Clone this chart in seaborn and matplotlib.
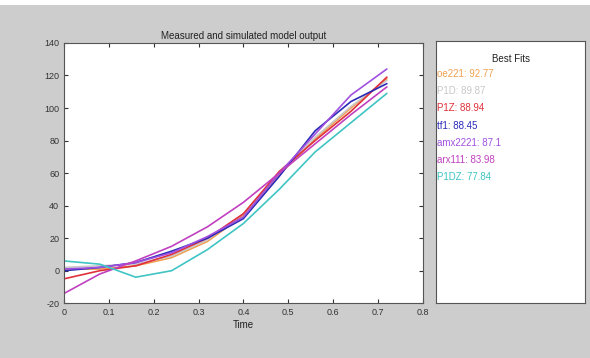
import numpy as np
import pandas as pd
import matplotlib
matplotlib.use("Agg")
import matplotlib.pyplot as plt
import seaborn as sns

time = [0, 0.08, 0.16, 0.24, 0.32, 0.40, 0.48, 0.56, 0.64, 0.72]

models = ["oe221", "P1D", "P1Z", "tf1", "amx2221", "arx111", "P1DZ"]
fits = ["92.77", "89.87", "88.94", "88.45", "87.1", "83.98", "77.84"]
colors = ["#f0a050", "#c8c8c8", "#e0303a", "#2a2ab8", "#a050e0", "#c040c0", "#40c4c4"]

oe221 = [1, 1, 3, 8, 18, 34, 59, 81, 100, 118]
p1d = [2, 3, 4, 9, 19, 35, 60, 82, 101, 117]
p1z = [-5, 0, 3, 10, 20, 35, 61, 80, 98, 119]
tf1 = [0, 2, 5, 12, 20, 32, 58, 86, 104, 115]
amx2221 = [1, 2, 5, 11, 21, 33, 60, 84, 108, 124]
arx111 = [-14, -2, 6, 15, 27, 42, 60, 78, 96, 113]
p1dz = [6, 4, -4, 0, 13, 29, 50, 73, 91, 109]
series = [oe221, p1d, p1z, tf1, amx2221, arx111, p1dz]

rows = []
for name, vals in zip(models, series):
    for t, v in zip(time, vals):
        rows.append({"Time": t, "y": v, "model": name})
df = pd.DataFrame(rows)

sns.set_style("ticks")
plt.rcParams['font.family'] = ['Liberation Sans', 'DejaVu Sans']
plt.rcParams['axes.unicode_minus'] = False

fig = plt.figure(figsize=(5.9, 3.58), dpi=100)
fig.patch.set_facecolor("#cdcdcd")
# white strip across the top
fig.patches.append(plt.Rectangle((0, 0.985), 1, 0.015, transform=fig.transFigure,
                                 facecolor="white", edgecolor="none"))

ax = fig.add_axes([0.1085, 0.153, 0.608, 0.727])
sns.lineplot(data=df, x="Time", y="y", hue="model", palette=dict(zip(models, colors)),
             linewidth=1.2, ax=ax, legend=False)
ax.set_xlim(0, 0.8)
ax.set_ylim(-20, 140)
ax.set_xticks(np.arange(0, 0.81, 0.1))
ax.set_xticklabels(["0", "0.1", "0.2", "0.3", "0.4", "0.5", "0.6", "0.7", "0.8"])
ax.set_yticks(range(-20, 141, 20))
ax.tick_params(direction="in", top=True, right=True, labelsize=6.5, length=3,
               color="#333333", labelcolor="#333333")
ax.set_xlabel("Time", fontsize=7, color="#222222", labelpad=2)
ax.set_ylabel("")
ax.set_title("Measured and simulated model output", fontsize=7, color="#222222", pad=3)
for s in ax.spines.values():
    s.set_color("#555555")
    s.set_linewidth(0.8)

lax = fig.add_axes([0.739, 0.155, 0.253, 0.73])
lax.set_xticks([])
lax.set_yticks([])
for s in lax.spines.values():
    s.set_color("#555555")
    s.set_linewidth(0.8)
lax.text(0.5, 0.93, "Best Fits", ha="center", va="center", fontsize=7,
         color="#222222", transform=lax.transAxes)
for i, (name, fit, c) in enumerate(zip(models, fits, colors)):
    lax.text(0.005, 0.875 - i * 0.066, f"{name}: {fit}", ha="left", va="center",
             fontsize=7, color=c, transform=lax.transAxes)

fig.savefig("out.png", dpi=100)
